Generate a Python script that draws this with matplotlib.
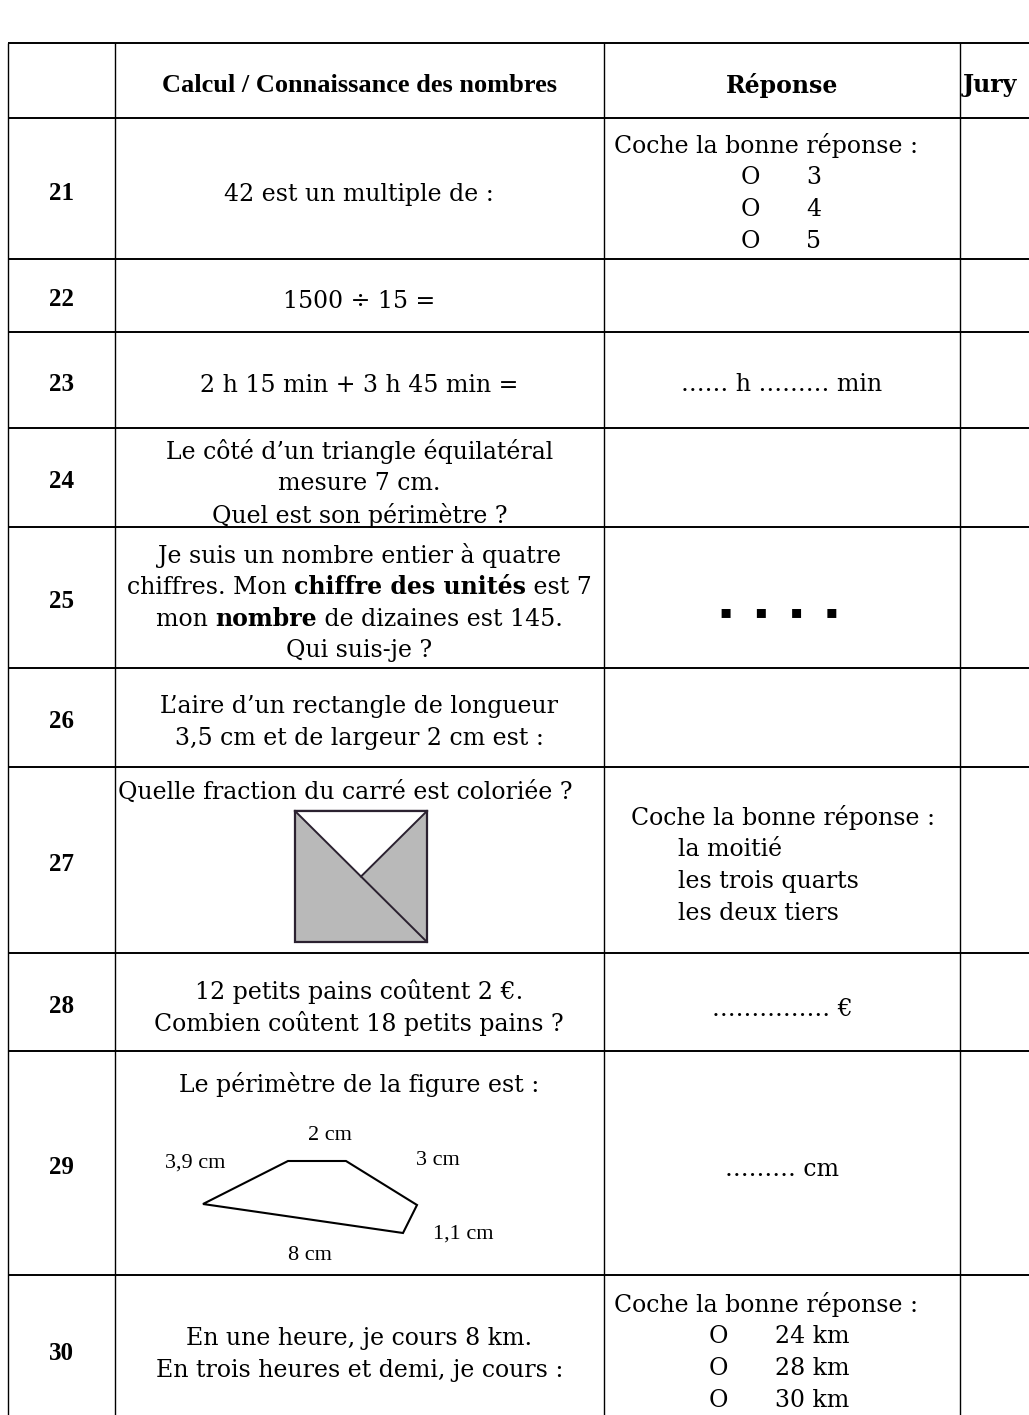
import matplotlib.pyplot as plt
from matplotlib.patches import Polygon

W, H = 1029, 1415
BODY = 'DejaVu Serif'
TIMES = 'Liberation Serif'
FS = 17

# table texts
header = ['Calcul / Connaissance des nombres', 'Réponse', 'Jury']
numbers = ['21', '22', '23', '24', '25', '26', '27', '28', '29', '30']
questions = [
    ['42 est un multiple de :'],
    ['1500 ÷ 15 ='],
    ['2 h 15 min + 3 h 45 min ='],
    ['Le côté d\u2019un triangle équilatéral', 'mesure 7 cm.', 'Quel est son périmètre ?'],
    None,  # row 25 has bold words, drawn below
    ['L\u2019aire d\u2019un rectangle de longueur', '3,5 cm et de largeur 2 cm est :'],
    ['Quelle fraction du carré est coloriée ?'],
    ['12 petits pains coûtent 2 \u20ac.', 'Combien coûtent 18 petits pains ?'],
    ['Le périmètre de la figure est :'],
    ['En une heure, je cours 8 km.', 'En trois heures et demi, je cours :'],
]
q25 = [
    [('Je suis un nombre entier à quatre', 'normal')],
    [('chiffres. Mon ', 'normal'), ('chiffre des unités', 'bold'), (' est 7', 'normal')],
    [('mon ', 'normal'), ('nombre', 'bold'), (' de dizaines est 145.', 'normal')],
    [('Qui suis-je ?', 'normal')],
]
coche = 'Coche la bonne réponse :'
choices21 = ['3', '4', '5']
choices27 = ['la moitié', 'les trois quarts', 'les deux tiers']
choices30 = ['24 km', '28 km', '30 km']
answer23 = '\u2026\u2026 h \u2026\u2026\u2026 min'
answer28 = '\u2026\u2026\u2026\u2026\u2026 \u20ac'
answer29 = '\u2026\u2026\u2026 cm'
answer25 = '\u25aa    \u25aa    \u25aa    \u25aa'
fig_labels = ['2 cm', '3,9 cm', '3 cm', '1,1 cm', '8 cm']

# layout in pixels
col_x = [8, 114.5, 604, 960]
row_y = [43, 118, 259, 332, 428, 527, 668, 767, 953, 1051, 1275, 1423]
pitch = 32

fig = plt.figure(figsize=(W / 100, H / 100), dpi=100)
ax = fig.add_axes([0, 0, 1, 1])
ax.set_xlim(0, W)
ax.set_ylim(H, 0)
ax.axis('off')

# grid (last row runs off the bottom of the page)
for y in row_y[:-1]:
    ax.plot([col_x[0], W], [y, y], color='black', lw=1.4, solid_capstyle='butt')
for x in col_x:
    ax.plot([x, x], [row_y[0], H], color='black', lw=1.0, solid_capstyle='butt')

q_cx = (col_x[1] + col_x[2]) / 2
a_cx = (col_x[2] + col_x[3]) / 2
n_cx = (col_x[0] + col_x[1]) / 2


def row_mid(num):
    i = numbers.index(num)
    return (row_y[i + 1] + row_y[i + 2]) / 2


def txt(x, y, s, **kw):
    opts = dict(family=BODY, size=FS, ha='center', va='center_baseline')
    opts.update(kw)
    return ax.text(x, y, s, **opts)


def lines_at(x, yc, lines, **kw):
    y0 = yc - pitch * (len(lines) - 1) / 2
    for i, s in enumerate(lines):
        txt(x, y0 + i * pitch, s, **kw)


renderer = fig.canvas.get_renderer()


def width(s, weight):
    t1 = ax.text(0, 0, 'x' + s + 'x', family=BODY, size=FS, weight=weight)
    t2 = ax.text(0, 0, 'xx', family=BODY, size=FS, weight=weight)
    w = t1.get_window_extent(renderer).width - t2.get_window_extent(renderer).width
    t1.remove()
    t2.remove()
    return w


def rich_line(xc, y, parts):
    ws = [width(s, wt) for s, wt in parts]
    left = xc - sum(ws) / 2
    for (s, wt), w in zip(parts, ws):
        txt(left, y, s, ha='left', weight=wt)
        left += w


# header
hy = (row_y[0] + row_y[1]) / 2 + 2
txt(q_cx, hy, header[0], family=TIMES, size=19, weight='bold')
txt(a_cx, hy, header[1], weight='bold')
txt(col_x[3] + 3, hy, header[2], weight='bold', ha='left')

# rows
for i, num in enumerate(numbers):
    yc = row_mid(num)
    txt(n_cx, yc + 2, num, family=TIMES, size=18, weight='bold')
    q = questions[i]
    if num == '25':
        y0 = yc + 3 - pitch * 1.5
        for k, parts in enumerate(q25):
            rich_line(q_cx, y0 + k * pitch, parts)
    elif num == '27':
        txt(col_x[1] + 3, row_y[i + 1] + 23, q[0], ha='left')
    elif num == '29':
        txt(q_cx, row_y[i + 1] + 31, q[0])
    else:
        lines_at(q_cx, yc + 3, q)

# answers
yc21 = row_mid('21') + 3
txt(766, yc21 - 1.5 * pitch, coche)
for k, c in enumerate(choices21):
    yy = yc21 + (k - 0.5) * pitch
    txt(750, yy, 'O')
    txt(806, yy, c, ha='left')

txt(a_cx, row_mid('23') + 2, answer23)
txt(779, row_mid('25') + 13, answer25, family='DejaVu Sans', size=13)

yc27 = row_mid('27') + 3
txt(783, yc27 - 1.5 * pitch, coche)
for k, c in enumerate(choices27):
    txt(678, yc27 + (k - 0.5) * pitch, c, ha='left')

txt(a_cx, row_mid('28') + 5, answer28)
txt(a_cx, row_mid('29') + 4, answer29)

yc30 = row_mid('30') + 1
txt(766, yc30 - 1.5 * pitch, coche)
for k, c in enumerate(choices30):
    yy = yc30 + (k - 0.5) * pitch
    txt(718, yy, 'O')
    txt(775, yy, c, ha='left')

# square of question 27
sq = [295, 811, 427, 942]
ax.add_patch(Polygon([(sq[0], sq[1]), (sq[2], sq[1]), (sq[2], sq[3]), (sq[0], sq[3])],
                     closed=True, facecolor='#b9b9b9', edgecolor='#2b2130', lw=1.6))
mid = ((sq[0] + sq[2]) / 2, (sq[1] + sq[3]) / 2)
ax.add_patch(Polygon([(sq[0], sq[1]), (sq[2], sq[1]), mid], closed=True,
                     facecolor='white', edgecolor='none'))
ax.plot([sq[0], sq[2]], [sq[1], sq[3]], color='#2b2130', lw=1.4)
ax.plot([sq[2], mid[0]], [sq[1], mid[1]], color='#2b2130', lw=1.4)
ax.plot([sq[0], sq[2]], [sq[1], sq[1]], color='#2b2130', lw=1.6)

# polygon of question 29
poly = [(203, 1204), (288, 1161), (346, 1161), (417, 1205), (403, 1233)]
ax.add_patch(Polygon(poly, closed=True, fill=False, edgecolor='black', lw=1.5))
lab_pos = [(330, 1133), (195, 1161), (438, 1158), (463, 1232), (310, 1253)]
for s, (x, y) in zip(fig_labels, lab_pos):
    txt(x, y, s, family=TIMES, size=16)

fig.savefig('out.png', dpi=100)
